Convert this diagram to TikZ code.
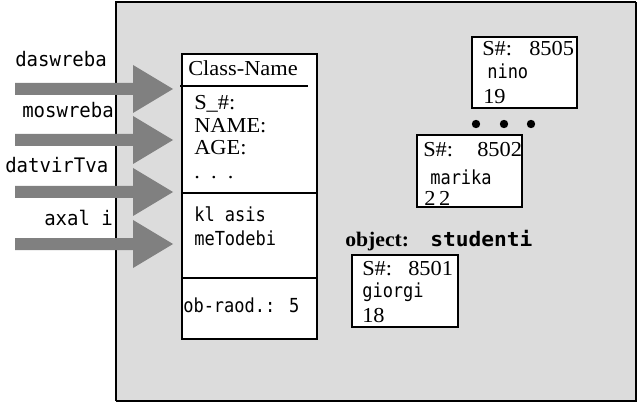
\documentclass[tikz,border=0pt]{standalone}
\usepackage{fontspec}
\setmainfont{Liberation Serif}[FakeStretch=1.05]
\newfontfamily\geolabel{DejaVu Sans Mono}[FakeStretch=0.95]
\newfontfamily\geotext{DejaVu Sans Mono}[FakeStretch=0.88]
\newfontfamily\geohead{DejaVu Sans Mono}[FakeStretch=1.06]
\definecolor{panel}{RGB}{220,220,220}
\definecolor{arrowgray}{RGB}{128,128,128}

\tikzset{
  serif/.style={font=\fontsize{16}{18}\selectfont, inner sep=0pt, anchor=base west},
  serifbold/.style={font=\fontsize{15.5}{18}\selectfont\bfseries, inner sep=0pt, anchor=base west},
  label/.style={font=\geolabel\fontsize{15}{17}\selectfont, inner sep=0pt, anchor=base west},
  boxtext/.style={font=\geotext\fontsize{14.5}{17}\selectfont, inner sep=0pt, anchor=base west},
  headline/.style={font=\geohead\fontsize{15}{17}\selectfont\bfseries, inner sep=0pt, anchor=base west},
  objbox/.style={draw=black, fill=white, line width=0.9pt},
  blockarrow/.pic={
    \fill[arrowgray] (-158,-6) -- (-40,-6) -- (-40,-24) -- (0,0)
      -- (-40,24) -- (-40,6) -- (-158,6) -- cycle;
  }
}

\begin{document}
\begin{tikzpicture}[x=0.75pt,y=-0.75pt]
\useasboundingbox (0,0) rectangle (639,406);

% panel with a heavier bottom/right edge
\fill[panel] (116,2) rectangle (636,401);
\draw[line width=0.9pt] (116,401) -- (116,2) -- (636,2);
\draw[line width=1.8pt] (116,401) -- (636,401) -- (636,2);

% the four input arrows with their labels
\coordinate (t1) at (173,89);
\coordinate (t2) at (173,140);
\coordinate (t3) at (173,192);
\coordinate (t4) at (173,244);
\pic at (t1) {blockarrow};
\pic at (t2) {blockarrow};
\pic at (t3) {blockarrow};
\pic at (t4) {blockarrow};
\node[label] (l1) at (15,67) {daswreba};
\node[label] (l2) at (22,118) {moswreba};
\node[label] (l3) at (5,173) {datvirTva};
\node[label] (l4) at (44,225) {axal i};

% class box
\draw[objbox] (182,54) rectangle (317,339);
\draw[line width=2pt] (180,86) -- (308,86);
\draw[line width=0.9pt] (182,193) -- (317,193);
\draw[line width=0.9pt] (182,278) -- (317,278);
\node[serif] (cname) at (188,76) {Class-Name};
\node[serif] (a1) at (194,110) {S\_\#:};
\node[serif] (a2) at (194,133) {NAME:};
\node[serif] (a3) at (194,155) {AGE:};
\node[serif] (a4) at (194,179) {.\ \ .\ \ .};
\node[boxtext] (m1) at (194,222) {kl asis};
\node[boxtext] (m2) at (194,245) {meTodebi};
\node[boxtext] (cnt) at (183,312) {ob-raod.: 5};

% object instances
\draw[objbox] (472,37) rectangle (577,108);
\node[serif] (n1) at (482,56) {S\#:};
\node[serif] (n2) at (529,56) {8505};
\node[boxtext] (n3) at (487,79) {nino};
\node[serif] (n4) at (483,104) {19};

\foreach \x [count=\i] in {476,504,531}
  \fill (\x,124) circle (4.2);

\draw[objbox] (417,135) rectangle (522,207);
\node[serif] (r1) at (423,157) {S\#:};
\node[serif] (r2) at (477,157) {8502};
\node[boxtext] (r3) at (430,185) {marika};
\node[serif] (r4) at (424,205) {2\,2};

\node[serifbold] (objlbl) at (345,247) {object:};
\node[headline] (objname) at (430,247) {studenti};

\draw[objbox] (352,255) rectangle (458,327);
\node[serif] (g1) at (362,275) {S\#:};
\node[serif] (g2) at (408,275) {8501};
\node[boxtext] (g3) at (362,297) {giorgi};
\node[serif] (g4) at (362,322) {18};
\end{tikzpicture}
\end{document}
